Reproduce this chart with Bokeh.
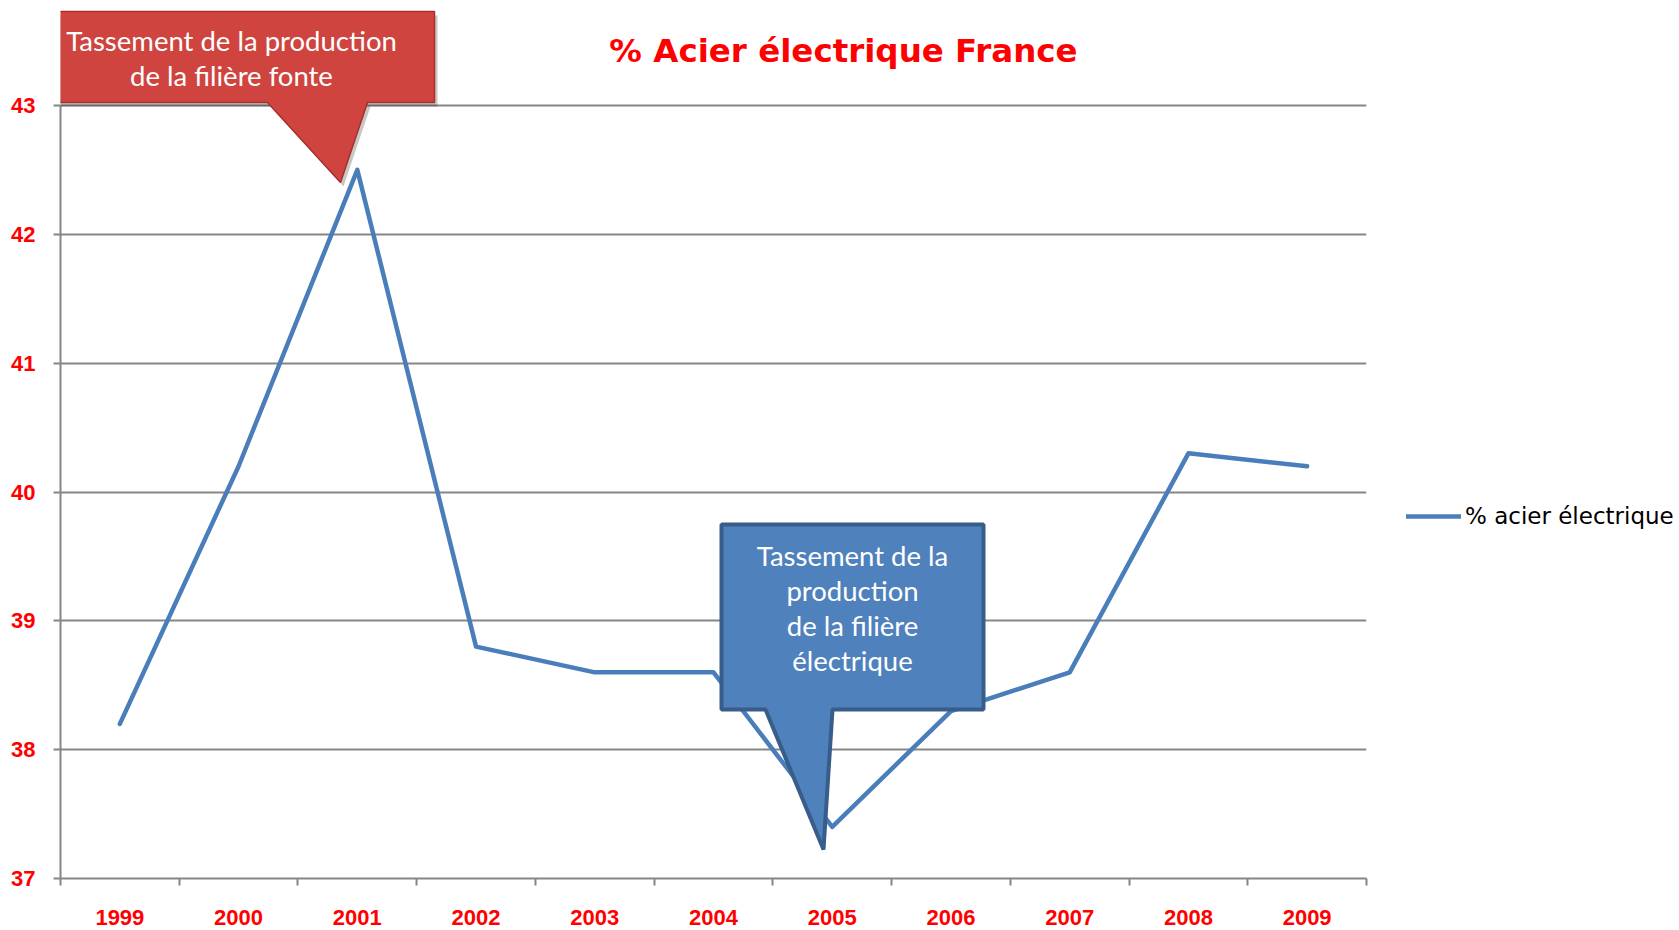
from bokeh.plotting import figure
from bokeh.models import Range1d, FixedTicker, PolyAnnotation, Label, Legend, LegendItem
from bokeh.embed import file_html
from bokeh.resources import INLINE

# ---------------- data ----------------
years = [1999, 2000, 2001, 2002, 2003, 2004, 2005, 2006, 2007, 2008, 2009]
pct_acier_electrique = [38.2, 40.2, 42.5, 38.8, 38.6, 38.6, 37.4, 38.3, 38.6, 40.3, 40.2]
y_ticks = [37, 38, 39, 40, 41, 42, 43]
title_text = "% Acier électrique France"
series_name = "% acier électrique"
callout_red_lines = ["Tassement de la production", "de la filière fonte"]
callout_blue_lines = ["Tassement de la", "production", "de la filière", "électrique"]

# ---------------- layout constants (canvas pixels) ----------------
FRAME_L, FRAME_W = 60, 1306  # frame horizontal extent on canvas
AX_TOP, AX_BOT = 105, 878    # canvas y of top tick (43) and bottom (37)
FRAME_H = AX_BOT             # frame starts at canvas top so callouts/title are not clipped
X_MIN, X_MAX = years[0] - 0.5, years[-1] + 0.5
Y_MIN = y_ticks[0]
UNIT = (AX_BOT - AX_TOP) / (y_ticks[-1] - y_ticks[0])
Y_TOP = Y_MIN + FRAME_H / UNIT


def to_x(px):
    return X_MIN + (px - FRAME_L) * (X_MAX - X_MIN) / FRAME_W


def to_y(py):
    return Y_MIN + (AX_BOT - py) / UNIT


GRID = "#868686"
RED = "#FF0000"
LINE_BLUE = "#4A7EBB"

p = figure(
    frame_width=FRAME_W, frame_height=FRAME_H,
    min_border_left=FRAME_L, min_border_top=0,
    min_border_right=313, min_border_bottom=52,
    x_range=Range1d(X_MIN, X_MAX), y_range=Range1d(Y_MIN, Y_TOP),
    output_backend="svg", toolbar_location=None,
    background_fill_color="white", border_fill_color="white",
)
p.outline_line_color = None
p.title.visible = False

# axes
p.xaxis.ticker = FixedTicker(ticks=years,
                             minor_ticks=[y - 0.5 for y in years] + [years[-1] + 0.5])
p.xaxis.major_tick_line_color = None
p.xaxis.major_tick_out = 0
p.xaxis.major_tick_in = 0
p.xaxis.minor_tick_out = 7
p.xaxis.minor_tick_in = 0
p.xaxis.minor_tick_line_color = GRID
p.xaxis.minor_tick_line_width = 2
p.xaxis.major_label_standoff = 24

p.yaxis.ticker = FixedTicker(ticks=y_ticks)
p.yaxis.bounds = (y_ticks[0], y_ticks[-1])
p.yaxis.major_tick_out = 7
p.yaxis.major_tick_in = 0
p.yaxis.minor_tick_line_color = None
p.yaxis.major_tick_line_color = GRID
p.yaxis.major_tick_line_width = 2
p.yaxis.major_label_standoff = 18

for ax in (p.xaxis, p.yaxis):
    ax.axis_line_color = GRID
    ax.axis_line_width = 2
    ax.major_label_text_color = RED
    ax.major_label_text_font = "Liberation Sans"
    ax.major_label_text_font_style = "bold"
    ax.major_label_text_font_size = "22px"

p.xgrid.visible = False
p.ygrid.ticker = FixedTicker(ticks=y_ticks)
p.ygrid.grid_line_color = GRID
p.ygrid.grid_line_width = 2

# series
r = p.line(years, pct_acier_electrique, line_color=LINE_BLUE, line_width=4.5,
           line_join="round", line_cap="round")

legend = Legend(items=[LegendItem(label=series_name, renderers=[r])],
                location=(40, 349), padding=0, margin=0, spacing=0,
                glyph_width=55, glyph_height=24, label_standoff=4,
                border_line_color=None, background_fill_alpha=0,
                label_text_font="DejaVu Sans", label_text_font_size="23px",
                label_text_color="black")
p.add_layout(legend, "right")

# title
p.add_layout(Label(x=to_x(843), y=to_y(50), text=title_text,
                   text_align="center", text_baseline="middle",
                   text_font="DejaVu Sans", text_font_style="bold",
                   text_font_size="32.5px", text_color=RED))

# red callout (reference pixel outline)
red_px = [(27, 11), (434, 11), (434, 102), (367, 102), (340, 182), (267, 102), (27, 102)]
p.add_layout(PolyAnnotation(xs=[to_x(x + 3) for x, _ in red_px],
                            ys=[to_y(y + 4) for _, y in red_px],
                            fill_color="black", fill_alpha=0.22, line_color=None))
p.add_layout(PolyAnnotation(xs=[to_x(x) for x, _ in red_px],
                            ys=[to_y(y) for _, y in red_px],
                            fill_color="#D0443F", fill_alpha=1.0,
                            line_color="#A8302C", line_width=1.5, line_alpha=1.0))
for i, t in enumerate(callout_red_lines):
    p.add_layout(Label(x=to_x(231), y=to_y(40 + 35 * i), text=t,
                       text_align="center", text_baseline="middle",
                       text_font="Lato", text_font_size="27.5px", text_color="white"))

# blue callout
blue_px = [(721, 524), (983, 524), (983, 709), (832, 709), (823, 849), (765, 709), (721, 709)]
p.add_layout(PolyAnnotation(xs=[to_x(x) for x, _ in blue_px],
                            ys=[to_y(y) for _, y in blue_px],
                            fill_color="#4F81BD", fill_alpha=1.0,
                            line_color="#385D8A", line_width=4, line_alpha=1.0))
for i, t in enumerate(callout_blue_lines):
    p.add_layout(Label(x=to_x(852), y=to_y(555 + 35 * i), text=t,
                       text_align="center", text_baseline="middle",
                       text_font="Lato", text_font_size="27.5px", text_color="white"))

open("out.html", "w").write(file_html(p, INLINE))
